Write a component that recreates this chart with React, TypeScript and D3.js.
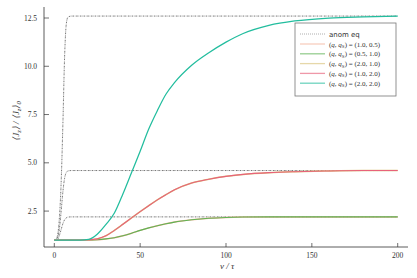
import React from "react";
import * as d3 from "d3";

const xs = [0, 10, 15, 20, 25, 30, 35, 40, 45, 50, 55, 60, 65, 70, 80, 90, 100, 110, 125, 140, 160, 180, 200];
const sTeal = [1, 1, 1.0, 1.03, 1.3, 1.8, 2.4, 3.4, 4.5, 5.6, 6.75, 7.7, 8.55, 9.15, 10.05, 10.7, 11.25, 11.7, 12.12, 12.35, 12.5, 12.56, 12.6];
const sRed = [1, 1, 1.0, 1.01, 1.06, 1.22, 1.5, 1.82, 2.15, 2.47, 2.78, 3.08, 3.35, 3.6, 3.95, 4.15, 4.3, 4.4, 4.49, 4.54, 4.58, 4.6, 4.6];
const sGreen = [1, 1, 1.0, 1.0, 1.02, 1.06, 1.12, 1.22, 1.35, 1.5, 1.63, 1.74, 1.84, 1.93, 2.05, 2.13, 2.17, 2.19, 2.2, 2.2, 2.2, 2.2, 2.2];

const anomX = [0, 1, 2, 3, 4, 5, 6, 7, 8, 10, 200];
const anomHigh = [1, 1.05, 1.3, 2.2, 4, 7, 10.5, 12.2, 12.55, 12.6, 12.6];
const anomMid = [1, 1.03, 1.15, 1.6, 2.5, 3.5, 4.2, 4.5, 4.58, 4.6, 4.6];
const anomLow = [1, 1.01, 1.05, 1.25, 1.55, 1.85, 2.05, 2.15, 2.19, 2.2, 2.2];

const xTicks = [0, 50, 100, 150, 200];
const yTicks = [2.5, 5.0, 7.5, 10.0, 12.5];

const legendLabels = ["(1.0, 0.5)", "(0.5, 1.0)", "(2.0, 1.0)", "(1.0, 2.0)", "(2.0, 2.0)"];
const seriesColors = ["#f5b49c", "#5fb455", "#d9c47c", "#e8627a", "#22bd9e"];
const seriesData = [sGreen, sGreen, sRed, sRed, sTeal];
const seriesWidths = [1.5, 1.1, 1.5, 1.1, 1.25];

export default function App() {
  const x = d3.scaleLinear().domain([-6, 206]).range([44, 408]);
  const y = d3.scaleLinear().domain([0.64, 13.07]).range([247, 7]);
  const line = d3
    .line<[number, number]>()
    .x((d) => x(d[0]))
    .y((d) => y(d[1]))
    .curve(d3.curveMonotoneX);
  const mk = (a: number[], b: number[]) => a.map((v, i) => [v, b[i]] as [number, number]);
  const font = "'Liberation Serif', serif";
  const lx = 295, ly = 23, lw = 101, lh = 73;
  return (
    <svg width={417} height={278} style={{ position: "absolute", left: 0, top: 0, background: "#fff" }} fontFamily={font}>
      <line x1={44} y1={7} x2={44} y2={247} stroke="#333" strokeWidth={0.8} />
      <line x1={44} y1={247} x2={408} y2={247} stroke="#333" strokeWidth={0.8} />
      {yTicks.map((t) => (
        <g key={"y" + t}>
          <line x1={44} x2={49} y1={y(t)} y2={y(t)} stroke="#333" strokeWidth={0.7} />
          <text x={37} y={y(t) + 2.5} fontSize={7.5} textAnchor="end" fill="#333">
            {t.toFixed(1)}
          </text>
        </g>
      ))}
      {xTicks.map((t) => (
        <g key={"x" + t}>
          <line x1={x(t)} x2={x(t)} y1={247} y2={243} stroke="#333" strokeWidth={0.7} />
          <text x={x(t)} y={258} fontSize={7.5} textAnchor="middle" fill="#333">
            {t}
          </text>
        </g>
      ))}
      <text x={227} y={269} fontSize={9} textAnchor="middle" fill="#333" fontStyle="italic">
        v / τ
      </text>
      <text transform="translate(19,121) rotate(-90)" fontSize={9} textAnchor="middle" fill="#333" fontStyle="italic">
        ⟨J<tspan fontSize={6.5} dy={2}>z</tspan>
        <tspan dy={-2}>⟩ / ⟨J</tspan>
        <tspan fontSize={6.5} dy={2}>z</tspan>
        <tspan dy={-2}>⟩</tspan>
        <tspan fontSize={6.5} dy={2}>0</tspan>
      </text>
      {[anomHigh, anomMid, anomLow].map((s, i) => (
        <path key={"a" + i} d={line(mk(anomX, s)) || ""} fill="none" stroke="#555" strokeWidth={0.8} strokeDasharray="1.6,0.8,0.5,0.8" />
      ))}
      {seriesData.map((s, i) => (
        <path key={"s" + i} d={line(mk(xs, s)) || ""} fill="none" stroke={seriesColors[i]} strokeWidth={seriesWidths[i]} />
      ))}
      <rect x={lx} y={ly} width={lw} height={lh} fill="#fff" stroke="#777" strokeWidth={0.8} />
      <line x1={300} x2={325} y1={34} y2={34} stroke="#999" strokeWidth={0.8} strokeDasharray="1,1" />
      <text x={329} y={36.5} fontSize={7} fill="#333" fontFamily="'DejaVu Sans', sans-serif">anom eq</text>
      {legendLabels.map((lab, i) => {
        const yy = 44 + i * 9.8;
        return (
          <g key={"l" + i}>
            <line x1={300} x2={325} y1={yy} y2={yy} stroke={seriesColors[i]} strokeWidth={1.3} opacity={0.65} />
            <text x={329} y={yy + 2.5} fontSize={7} fill="#333">
              (<tspan fontStyle="italic">q</tspan>, <tspan fontStyle="italic">q</tspan>
              <tspan fontSize={5} dy={1.5}>S</tspan>
              <tspan dy={-1.5}>) = {lab}</tspan>
            </text>
          </g>
        );
      })}
    </svg>
  );
}
